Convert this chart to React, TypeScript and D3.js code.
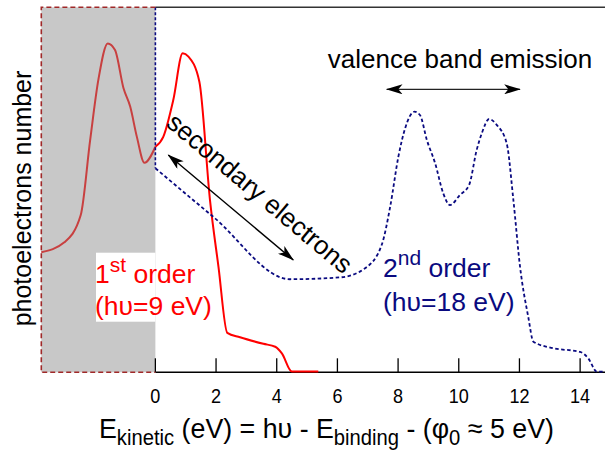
import React from "react";
import * as d3 from "d3";

// 1st order spectrum (hv = 9 eV): [E_kinetic eV, relative counts %]
const firstOrderX = [-3.76, -3.0, -2.46, -2.15, -1.88, -1.57, -1.33, -1.05, -0.83, -0.61, -0.36, 0, 0.26, 0.59, 0.9, 1.09, 1.45, 1.8, 2.08, 2.37, 2.79, 3.56, 3.95, 4.17, 4.5, 5.37];
const firstOrderY = [32.9, 35.6, 43.1, 63.6, 80.1, 90.1, 88.3, 77.8, 72.8, 64.5, 57.4, 61.8, 64.5, 74.6, 87.4, 86.5, 79.6, 47.2, 28.9, 10.8, 9.6, 7.8, 7.0, 5.2, 0.2, 0.2];

// 2nd order spectrum (hv = 18 eV)
const secondOrderX = [0, 0, 1.91, 4.44, 6.09, 6.91, 7.46, 7.74, 8.01, 8.23, 8.54, 8.72, 8.95, 9.22, 9.49, 9.71, 10.04, 10.34, 10.59, 10.76, 11.0, 11.25, 11.58, 11.8, 12.02, 12.29, 12.46, 13.12, 14.0, 14.27, 14.55, 14.82];
const secondOrderY = [100, 55.9, 42.6, 25.5, 26.0, 28.5, 34.9, 45.4, 59.1, 66.8, 71.4, 70.5, 63.6, 57.3, 49.0, 45.8, 48.6, 51.3, 60.9, 65.5, 69.4, 67.8, 62.7, 47.2, 28.9, 15.2, 8.4, 6.6, 5.6, 3.8, 0.2, 0.2];

const xTicks = [0, 2, 4, 6, 8, 10, 12, 14];
const xDomain = [-3.76, 14.82];
const yDomain = [0, 100];

const W = 605;
const H = 452;

export default function App() {
  const x = d3.scaleLinear().domain(xDomain).range([41.3, 605]);
  const y = d3.scaleLinear().domain(yDomain).range([372.3, 7.3]);

  const first = firstOrderX.map((v, i) => [v, firstOrderY[i]] as [number, number]);
  const second = secondOrderX.map((v, i) => [v, secondOrderY[i]] as [number, number]);
  const line = d3
    .line<[number, number]>()
    .x((d) => x(d[0]))
    .y((d) => y(d[1]))
    .curve(d3.curveMonotoneX);
  const lineLin = d3
    .line<[number, number]>()
    .x((d) => x(d[0]))
    .y((d) => y(d[1]));

  const firstIn = first.filter((d) => d[0] <= 0);
  const firstOut = first.filter((d) => d[0] >= 0);

  const sans = "'Liberation Sans', Arial, Helvetica, sans-serif";

  const x0 = x(0);
  const xL = x(xDomain[0]);
  const yTop = y(100);
  const yBot = y(0);

  const sa = { x1: 168.3, y1: 155, x2: 293.3, y2: 260 };
  const va = { x1: 386.7, y1: 89.3, x2: 520, y2: 89.3 };

  return (
    <svg
      width={W}
      height={H}
      viewBox={`0 0 ${W} ${H}`}
      style={{ position: "absolute", left: 0, top: 0, background: "#fff" }}
    >
      <defs>
        <marker id="ah" viewBox="0 0 20 12" refX="19" refY="6" markerWidth="17" markerHeight="10" markerUnits="userSpaceOnUse" orient="auto-start-reverse">
          <path d="M0,0 L20,6 L0,12 L5,6 Z" fill="#000" />
        </marker>
      </defs>
      <rect x={xL} y={yTop} width={x0 - xL} height={yBot - yTop} fill="#c8c8c8" />
      <line x1={x0} x2={W} y1={yTop} y2={yTop} stroke="#333" strokeWidth={1.5} />
      <line x1={x0} x2={W} y1={yBot} y2={yBot} stroke="#000" strokeWidth={1.5} />
      {xTicks.map((t) => (
        <g key={t}>
          <line x1={x(t)} x2={x(t)} y1={yBot} y2={yBot - 14} stroke="#000" strokeWidth={1.3} />
          <text
            transform={`translate(${x(t)},403) scale(0.86,1)`}
            textAnchor="middle"
            fontFamily={sans}
            fontSize={21}
            fill="#000"
          >
            {t}
          </text>
        </g>
      ))}
      <path d={line(firstIn) || ""} fill="none" stroke="#c84040" strokeWidth={2} />
      <path d={line(firstOut) || ""} fill="none" stroke="#ff0000" strokeWidth={2} />
      <path d={lineLin(second.slice(0, 2)) || ""} fill="none" stroke="#0a0a80" strokeWidth={1.6} strokeDasharray="3,2" />
      <path d={line(second.slice(1)) || ""} fill="none" stroke="#0a0a80" strokeWidth={1.8} strokeDasharray="3.5,2.5" />
      <path
        d={`M${x0},${yTop} L${xL},${yTop} L${xL},${yBot} L${x0},${yBot}`}
        fill="none"
        stroke="#a02828"
        strokeWidth={1.6}
        strokeDasharray="5,3"
      />
      <rect x={96} y={252.7} width={x0 - 96} height={69} fill="#fff" />
      <text x={95} y={283.3} fontFamily={sans} fontSize={26.5} fill="#ff0000">
        1<tspan fontSize={21} dy={-11.6}>st</tspan>
        <tspan dy={11.6}> order</tspan>
      </text>
      <text x={95} y={315} fontFamily={sans} fontSize={26.5} fill="#ff0000">
        (hυ=9 eV)
      </text>
      <text x={383} y={276.7} fontFamily={sans} fontSize={26.5} fill="#0a0a80">
        2<tspan fontSize={21} dy={-11.6}>nd</tspan>
        <tspan dy={11.6}> order</tspan>
      </text>
      <text x={383} y={311} fontFamily={sans} fontSize={26.5} fill="#0a0a80">
        (hυ=18 eV)
      </text>
      <text x={460} y={68.3} textAnchor="middle" fontFamily={sans} fontSize={26} fill="#000">
        valence band emission
      </text>
      <line {...va} stroke="#222" strokeWidth={1.2} markerStart="url(#ah)" markerEnd="url(#ah)" />
      <line {...sa} stroke="#000" strokeWidth={1.4} markerStart="url(#ah)" markerEnd="url(#ah)" />
      <text
        transform={`translate(254,200) rotate(40)`}
        textAnchor="middle"
        fontFamily={sans}
        fontSize={26}
        fill="#000"
      >
        secondary electrons
      </text>
      <text
        transform={`translate(31,198.5) rotate(-90)`}
        textAnchor="middle"
        fontFamily={sans}
        fontSize={25}
        fill="#000"
      >
        photoelectrons number
      </text>
      <text transform="translate(99,438.3) scale(0.94,1)" fontFamily={sans} fontSize={28.5} fill="#000">
        E<tspan fontSize={21.5} dy={7}>kinetic</tspan>
        <tspan dy={-7}> (eV) = hυ - E</tspan>
        <tspan fontSize={21.5} dy={7}>binding</tspan>
        <tspan dy={-7}> - (φ</tspan>
        <tspan fontSize={21.5} dy={7}>0</tspan>
        <tspan dy={-7}> ≈ 5 eV)</tspan>
      </text>
    </svg>
  );
}
